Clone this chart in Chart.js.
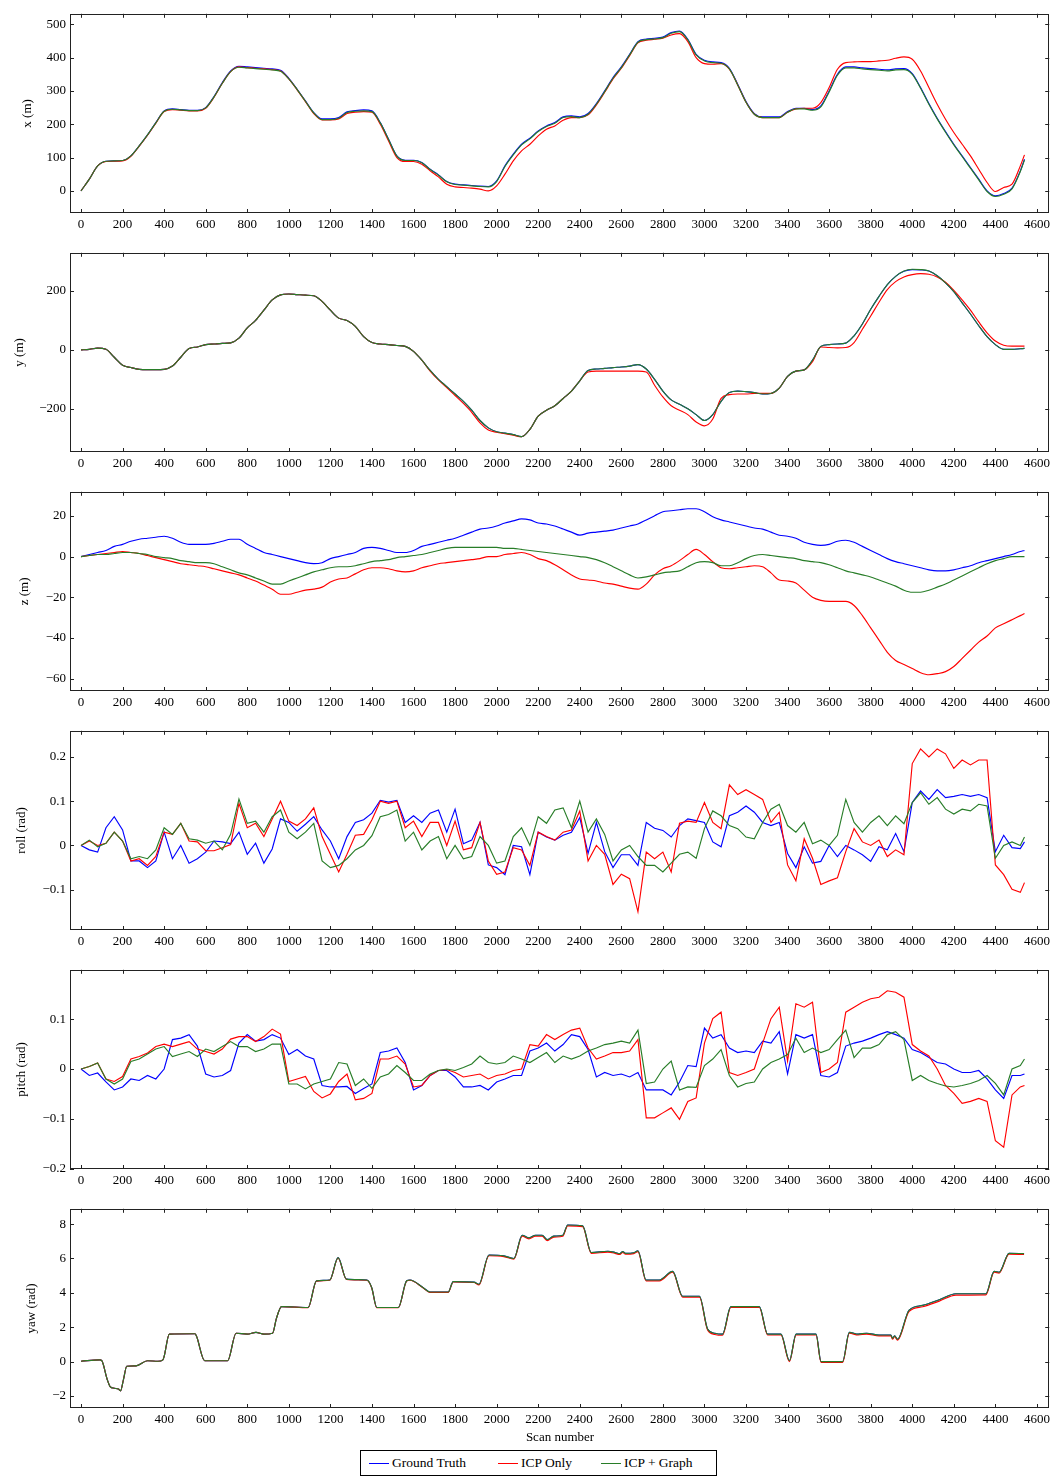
<!DOCTYPE html>
<html><head><meta charset="utf-8">
<script src="https://cdn.jsdelivr.net/npm/chart.js@4.4.1/dist/chart.umd.min.js"></script>
<style>
html,body{margin:0;padding:0;background:#fff;}
body{width:1054px;height:1477px;position:relative;overflow:hidden;font-family:"Liberation Serif",serif;color:#000;}
canvas{position:absolute;left:0;}
#xlabel{position:absolute;top:1429px;left:70px;width:980px;text-align:center;font-size:13px;line-height:15px;}
#legend{position:absolute;left:360px;top:1450px;width:357px;height:26px;border:1px solid #000;box-sizing:border-box;font-size:13.5px;}
#legend i{position:absolute;top:12px;width:20px;height:0;border-top:1.3px solid;}
#legend span{position:absolute;top:4px;line-height:16px;white-space:nowrap;}
</style></head>
<body>
<canvas id="c0" width="1054" height="239" style="top:2px"></canvas>
<canvas id="c1" width="1054" height="239" style="top:241px"></canvas>
<canvas id="c2" width="1054" height="239" style="top:480px"></canvas>
<canvas id="c3" width="1054" height="239" style="top:719px"></canvas>
<canvas id="c4" width="1054" height="239" style="top:958px"></canvas>
<canvas id="c5" width="1054" height="239" style="top:1197px"></canvas>
<div id="xlabel">Scan number</div>
<div id="legend">
<i style="left:8px;border-color:#0000ff"></i><span style="left:31px">Ground Truth</span>
<i style="left:137px;border-color:#ff0000"></i><span style="left:160px">ICP Only</span>
<i style="left:240px;border-color:rgb(40,125,40)"></i><span style="left:263px">ICP + Graph</span>
</div>
<script>
// ---------- DATA ----------
const seriesNames = ["Ground Truth", "ICP Only", "ICP + Graph"];
const scanTicks = [0,200,400,600,800,1000,1200,1400,1600,1800,2000,2200,2400,2600,2800,3000,3200,3400,3600,3800,4000,4200,4400,4600];

const scans = [0,40,80,120,160,200,240,280,320,360,
400,440,480,520,560,600,640,680,720,760,
800,840,880,920,960,1000,1040,1080,1120,1160,
1200,1240,1280,1320,1360,1400,1440,1480,1520,1560,
1600,1640,1680,1720,1760,1800,1840,1880,1920,1960,
2000,2040,2080,2120,2160,2200,2240,2280,2320,2360,
2400,2440,2480,2520,2560,2600,2640,2680,2720,2760,
2800,2840,2880,2920,2960,3000,3040,3080,3120,3160,
3200,3240,3280,3320,3360,3400,3440,3480,3520,3560,
3600,3640,3680,3720,3760,3800,3840,3880,3920,3960,
4000,4040,4080,4120,4160,4200,4240,4280,4320,4360,
4400,4440,4480,4520,4540];

// x (m)
const xTicks = [0,100,200,300,400,500];
const xGt = [0,35,75,89,90,91,105,135,168,205,
240,246,244,242,242,250,283,325,360,374,
372,370,368,366,362,338,305,270,235,216,
216,220,237,241,243,240,205,155,105,92,
92,85,65,48,28,20,18,16,14,13,
30,75,110,140,158,180,195,205,222,225,
222,232,262,300,340,372,410,448,456,458,
462,475,480,455,410,392,387,385,368,320,
268,232,222,222,222,238,248,248,244,255,
300,350,372,372,369,367,365,363,366,367,
352,310,262,218,178,140,105,70,35,0,
-15,-8,8,60,95];
const xIcp = [0,35,75,88,89,90,104,134,167,203,
238,244,242,240,240,248,281,323,358,372,
370,368,366,364,360,336,303,268,232,213,
213,216,232,236,238,236,200,150,100,88,
88,80,60,42,20,12,10,8,5,0,
15,50,90,120,140,165,185,195,212,220,
220,228,258,296,336,368,406,444,452,455,
458,468,472,448,400,382,380,382,365,318,
266,230,220,220,220,236,246,248,248,265,
310,365,385,387,388,388,390,392,398,402,
395,360,310,260,215,175,140,105,65,25,
-2,10,20,75,108];
const xGraph = [0,35,75,89,90,91,105,135,168,204,
239,245,243,241,241,249,282,323,358,371,
369,367,365,363,359,336,304,269,234,214,
214,218,235,239,240,238,204,154,104,91,
91,84,64,47,27,19,17,15,13,12,
28,73,108,138,156,178,193,203,220,223,
220,230,260,298,338,370,408,446,454,456,
460,473,478,453,408,390,385,383,366,318,
266,230,220,220,220,236,246,246,242,252,
297,347,369,369,366,364,362,360,363,364,
350,308,260,216,176,138,103,68,33,-2,
-17,-10,6,58,93];

// y (m)
const yTicks = [-200,0,200];
const yGt = [0,2,6,2,-25,-52,-60,-66,-67,-67,
-66,-55,-25,5,10,18,20,22,24,40,
75,100,135,170,187,190,188,186,184,165,
135,108,100,80,45,25,20,18,15,12,
-5,-35,-70,-100,-125,-150,-175,-205,-240,-265,
-278,-283,-288,-295,-270,-225,-205,-190,-165,-140,
-105,-70,-65,-63,-60,-58,-55,-50,-65,-100,
-140,-170,-185,-200,-220,-240,-220,-175,-145,-140,
-142,-145,-150,-148,-130,-90,-72,-68,-35,12,
18,20,23,48,88,138,182,222,250,267,
273,272,268,252,228,198,160,122,82,45,
18,2,2,4,5];
const yIcp = [0,2,6,2,-25,-52,-60,-66,-67,-67,
-66,-55,-25,5,10,18,20,22,24,40,
75,100,135,170,187,190,188,186,184,165,
135,108,100,80,45,25,20,18,15,12,
-5,-35,-72,-102,-128,-155,-182,-212,-248,-272,
-280,-285,-290,-295,-270,-225,-205,-190,-165,-140,
-105,-75,-72,-72,-72,-72,-72,-72,-75,-120,
-160,-190,-205,-220,-245,-258,-235,-165,-152,-150,
-150,-148,-148,-148,-130,-90,-72,-68,-40,10,
8,7,8,25,70,115,162,205,232,248,
256,259,257,248,230,202,170,135,95,58,
30,16,13,13,13];
const yGraph = [0,2,6,2,-25,-52,-60,-66,-67,-67,
-66,-55,-25,5,10,18,20,22,24,40,
75,100,135,170,187,190,188,186,184,165,
135,108,100,80,45,25,20,18,15,12,
-5,-35,-70,-100,-125,-150,-175,-205,-240,-265,
-278,-283,-288,-295,-270,-225,-205,-190,-165,-140,
-105,-70,-65,-63,-60,-58,-55,-50,-65,-100,
-140,-170,-185,-200,-220,-240,-220,-175,-145,-140,
-142,-145,-150,-148,-130,-90,-72,-68,-35,12,
18,20,23,48,88,138,182,222,250,268,
274,273,268,252,228,198,160,122,82,45,
18,2,2,4,5];

// z (m)
const zTicks = [-60,-40,-20,0,20];
const zGt = [0,1,2,3,5,6,7.5,8.5,9,9.5,
10,9,7,6,6,6,6.5,7.5,8.5,8.5,
6,4,2,1,0,-1,-2,-3,-3.5,-3,
-1,0,1,2,4,4.5,4,3,2,2,
3,5,6,7,8,9,10.5,12,13.5,14,
15,16.5,17.5,18.5,18,16.5,16,15,13.5,12,
10.5,11.5,12,12.5,13,14,15,16,18,20,
22,22.5,23,23.5,23.5,22,19.5,18,17,16,
15,14,13.5,12,10.5,10,9,7,6,5.5,
6,7.5,8,7,5,3,1,-1,-2.5,-3.5,
-4.5,-5.5,-6.5,-7,-7,-6.5,-5.5,-4.5,-3,-2,
-1,0,1,2.5,3];
const zIcp = [0,0.5,1,1.5,2,2.5,2,1.5,0.5,-0.5,
-1.5,-2.5,-3.5,-4,-4.5,-5,-6,-7,-8,-9,
-10.5,-12,-14,-16,-18.5,-18.5,-17.5,-16.5,-16,-15,
-12.5,-11,-10.5,-8.5,-6.5,-5.5,-5.5,-6,-7,-7.5,
-7,-5.5,-4.5,-3.5,-3,-2.5,-2,-1.5,-1,0,
0,1,1.5,2,1,-1,-2,-4,-6.5,-9,
-11,-11.5,-12,-13,-13.5,-14.5,-15.5,-16,-13.5,-9,
-6,-4.5,-2,1,3.5,1,-2.5,-5.5,-6,-5.5,
-5,-4.5,-5,-8,-11.5,-12,-13,-16.5,-20,-21.5,
-22,-22,-22,-24,-29,-35,-41,-47,-51,-53,
-55,-57,-58,-57.5,-56.5,-54,-50,-46,-42,-39,
-35,-33,-31,-29,-28];
const zGraph = [0,0.5,1,1,1.5,2,2,1.5,1,0,
-0.5,-1,-2,-2.5,-3,-3,-3.5,-5,-6.5,-8,
-9,-10.5,-12,-13.5,-13.5,-12,-10.5,-9,-7.5,-6.5,
-5.5,-5,-5,-4.5,-3.5,-2.5,-2,-1.5,-0.5,0,
0.5,1,2,3,4,4.5,4.5,4.5,4.5,4.5,
4.5,4,4,3.5,3,2.5,2,1.5,1,0.5,
0,-0.5,-1.5,-3,-5,-7,-9,-10.5,-10,-9,
-8,-7.5,-7,-5,-3,-2.5,-3,-4.5,-4.5,-3,
-1,0.5,1,0.5,0,-0.5,-1,-2,-2.5,-3,
-4,-5.5,-7,-8,-9,-10,-11.5,-13,-14.5,-16.5,
-17.5,-17.5,-16.5,-15,-13.5,-11.5,-9.5,-7.5,-5.5,-3.5,
-2,-1,0,0,0];

// roll (rad)
const rollTicks = [-0.1,0,0.1,0.2];
const rollGt = [0,-0.01,-0.015,0.04,0.065,0.035,-0.035,-0.035,-0.05,-0.035,
0.03,-0.03,0.0,-0.04,-0.03,-0.015,0.01,0.008,0.004,0.03,
-0.02,0.005,-0.04,-0.008,0.06,0.052,0.032,0.048,0.065,0.035,
0.01,-0.03,0.02,0.052,0.058,0.073,0.102,0.098,0.102,0.052,
0.067,0.052,0.073,0.08,0.03,0.082,0.004,0.012,0.052,-0.044,
-0.05,-0.066,0.0,-0.003,-0.066,0.03,0.019,0.012,0.023,0.03,
0.063,-0.018,0.052,-0.014,-0.05,-0.021,-0.021,-0.045,0.052,0.039,
0.034,0.019,0.045,0.06,0.056,0.052,0.008,-0.003,0.067,0.075,
0.089,0.075,0.052,0.045,0.052,-0.018,-0.05,-0.003,-0.04,-0.036,
0.0,-0.025,0.0,-0.01,-0.021,-0.036,-0.003,-0.01,0.027,-0.014,
0.097,0.123,0.104,0.126,0.108,0.111,0.115,0.111,0.115,0.108,
-0.014,0.023,-0.005,-0.007,0.008];
const rollIcp = [0,0.01,0.0,0.005,0.03,0.01,-0.035,-0.03,-0.045,-0.025,
0.03,0.025,0.05,0.01,0.008,-0.012,-0.012,-0.005,0.002,0.095,
0.04,0.05,0.02,0.06,0.1,0.055,0.045,0.06,0.085,0.02,
-0.02,-0.06,-0.02,0.023,0.025,0.058,0.1,0.095,0.1,0.04,
0.055,0.02,0.052,0.052,0.0,0.055,-0.01,-0.005,0.052,-0.035,
-0.065,-0.06,-0.005,-0.01,-0.045,0.03,0.02,0.012,0.03,0.035,
0.078,-0.035,0.0,-0.02,-0.088,-0.065,-0.075,-0.15,-0.015,-0.03,
-0.015,-0.06,0.05,0.055,0.052,0.097,0.052,0.038,0.137,0.115,
0.126,0.115,0.104,0.052,0.075,-0.044,-0.08,0.015,-0.029,-0.088,
-0.08,-0.073,-0.014,0.038,0.008,0.0,0.012,-0.025,-0.01,-0.021,
0.185,0.218,0.2,0.218,0.207,0.174,0.193,0.182,0.193,0.193,
-0.044,-0.066,-0.099,-0.106,-0.084];
const rollGraph = [0,0.012,-0.003,0.005,0.03,0.01,-0.03,-0.025,-0.03,-0.01,
0.04,0.025,0.05,0.015,0.012,0.005,0.01,-0.01,0.025,0.105,
0.05,0.055,0.03,0.065,0.08,0.03,0.015,0.03,0.05,-0.035,
-0.05,-0.045,-0.03,-0.01,0.0,0.022,0.065,0.07,0.08,0.01,
0.03,-0.01,0.01,0.02,-0.03,0.0,-0.03,-0.025,0.02,0.0,
-0.04,-0.035,0.02,0.04,0.0,0.065,0.05,0.08,0.085,0.04,
0.1,0.03,0.06,0.025,-0.035,-0.01,0.0,-0.025,-0.045,-0.045,
-0.06,-0.04,-0.02,-0.015,-0.029,0.038,0.078,0.067,0.045,0.038,
0.019,0.015,0.052,0.082,0.093,0.045,0.03,0.052,0.004,0.012,
0.0,0.023,0.104,0.052,0.03,0.052,0.067,0.045,0.067,0.049,
0.097,0.119,0.093,0.108,0.082,0.071,0.082,0.078,0.093,0.089,
-0.029,0.0,0.008,0.0,0.019];

// pitch (rad)
const pitchTicks = [-0.2,-0.1,0,0.1];
const pitchGt = [0,-0.013,-0.008,-0.026,-0.042,-0.036,-0.02,-0.023,-0.013,-0.02,
0.0,0.059,0.062,0.069,0.046,-0.01,-0.016,-0.013,-0.003,0.052,
0.069,0.056,0.059,0.069,0.062,0.029,0.039,0.026,0.02,-0.033,
-0.036,-0.036,-0.035,-0.049,-0.039,-0.03,0.033,0.036,0.042,0.013,
-0.042,-0.033,-0.013,-0.003,-0.003,-0.016,-0.036,-0.036,-0.033,-0.042,
-0.026,-0.02,-0.013,-0.013,0.036,0.042,0.052,0.036,0.049,0.069,
0.065,0.039,-0.016,-0.007,-0.013,-0.01,-0.016,-0.007,-0.042,-0.042,
-0.042,-0.052,-0.026,0.007,0.005,0.082,0.062,0.069,0.042,0.033,
0.036,0.033,0.056,0.052,0.075,-0.01,0.069,0.062,0.069,-0.013,
-0.016,-0.007,0.046,0.052,0.056,0.062,0.069,0.075,0.069,0.062,
0.039,0.033,0.023,0.013,0.01,0.0,-0.007,-0.007,-0.003,-0.02,
-0.042,-0.059,-0.013,-0.013,-0.01];
const pitchIcp = [0,0.005,0.012,-0.02,-0.025,-0.015,0.02,0.025,0.032,0.045,
0.05,0.045,0.05,0.055,0.04,0.035,0.03,0.04,0.06,0.065,
0.065,0.055,0.065,0.08,0.07,-0.025,-0.02,-0.015,-0.045,-0.058,
-0.05,-0.025,-0.01,-0.062,-0.059,-0.049,0.02,0.02,0.026,0.01,
-0.036,-0.033,-0.013,-0.003,-0.001,-0.007,-0.016,-0.013,-0.01,-0.02,
-0.013,-0.01,-0.003,0.0,0.049,0.046,0.069,0.059,0.069,0.078,
0.082,0.042,0.02,0.026,0.033,0.033,0.036,0.059,-0.098,-0.098,
-0.088,-0.078,-0.101,-0.065,-0.058,0.052,0.101,0.114,-0.007,-0.013,
-0.007,0.0,0.052,0.101,0.124,0.016,0.131,0.124,0.134,-0.007,
0.0,0.013,0.114,0.124,0.134,0.141,0.144,0.157,0.154,0.144,
0.049,0.036,0.026,0.0,-0.033,-0.049,-0.069,-0.065,-0.059,-0.065,
-0.144,-0.157,-0.052,-0.036,-0.033];
const pitchGraph = [0,0.005,0.012,-0.02,-0.03,-0.02,0.015,0.02,0.03,0.04,
0.045,0.025,0.03,0.035,0.025,0.04,0.035,0.045,0.055,0.045,
0.045,0.035,0.04,0.05,0.05,-0.03,-0.03,-0.04,-0.03,-0.025,
-0.02,0.013,0.01,-0.033,-0.02,-0.039,-0.016,-0.01,0.007,-0.007,
-0.023,-0.023,-0.01,-0.003,0.0,-0.003,0.003,0.01,0.026,0.013,
0.01,0.013,0.026,0.02,0.013,0.023,0.033,0.013,0.026,0.02,
0.026,0.036,0.042,0.049,0.052,0.056,0.052,0.078,-0.029,-0.026,
0.0,0.016,-0.042,-0.036,-0.037,0.007,0.02,0.039,-0.013,-0.036,
-0.029,-0.026,0.0,0.013,0.02,0.029,0.062,0.033,0.042,0.033,
0.039,0.059,0.078,0.023,0.042,0.042,0.049,0.069,0.075,0.059,
-0.023,-0.013,-0.023,-0.029,-0.034,-0.036,-0.033,-0.029,-0.023,-0.013,
-0.029,-0.052,0.0,0.007,0.02];

// yaw (rad)
const yawTicks = [-2,0,2,4,6,8];
const yawScans = [0,90,100,125,140,160,180,190,205,220,
265,320,370,394,400,425,548,555,595,706,
746,800,842,880,922,940,965,1093,1133,1197,
1237,1277,1375,1399,1423,1527,1567,1583,1647,1679,
1767,1791,1891,1915,1963,2035,2083,2123,2155,2187,
2219,2243,2275,2318,2342,2414,2455,2535,2570,2591,
2607,2620,2660,2680,2719,2783,2847,2895,2976,3015,
3050,3087,3127,3264,3304,3368,3409,3441,3537,3561,
3665,3697,3740,3780,3840,3897,3905,3915,3929,3985,
4050,4130,4210,4354,4394,4418,4466,4538];
const yawGt = [0.02,0.1,0.05,-1.0,-1.45,-1.55,-1.6,-1.7,-1.0,-0.27,
-0.25,0.05,0.02,0.1,0.3,1.6,1.62,1.5,0.05,0.05,
1.65,1.6,1.7,1.6,1.65,2.5,3.2,3.15,4.7,4.75,
6.05,4.8,4.75,4.3,3.15,3.15,4.7,4.75,4.3,4.05,
4.05,4.65,4.62,4.5,6.2,6.15,6.0,7.35,7.2,7.35,
7.35,7.1,7.3,7.35,7.95,7.9,6.35,6.42,6.35,6.28,
6.4,6.3,6.33,6.45,4.75,4.75,5.25,3.8,3.8,1.9,
1.65,1.6,3.2,3.2,1.6,1.6,0.05,1.6,1.6,0.0,
0.0,1.7,1.6,1.65,1.55,1.55,1.35,1.5,1.3,3.0,
3.27,3.6,3.95,3.95,5.25,5.2,6.3,6.28];
const yawIcp = [0.02,0.1,0.05,-1.0,-1.45,-1.55,-1.6,-1.7,-1.0,-0.27,
-0.25,0.05,0.02,0.1,0.3,1.6,1.62,1.5,0.05,0.05,
1.65,1.6,1.7,1.6,1.65,2.5,3.2,3.13,4.68,4.73,
6.03,4.78,4.73,4.28,3.13,3.13,4.68,4.73,4.28,4.03,
4.03,4.63,4.6,4.46,6.16,6.11,5.96,7.29,7.14,7.29,
7.29,7.04,7.24,7.29,7.9,7.85,6.3,6.37,6.3,6.23,
6.35,6.25,6.28,6.4,4.7,4.7,5.2,3.75,3.75,1.84,
1.58,1.53,3.15,3.15,1.55,1.55,0.0,1.55,1.55,-0.05,
-0.05,1.65,1.55,1.6,1.5,1.5,1.3,1.45,1.25,2.92,
3.19,3.52,3.87,3.88,5.2,5.15,6.25,6.23];
const yawGraph = [0.02,0.1,0.05,-1.0,-1.45,-1.55,-1.6,-1.7,-1.0,-0.27,
-0.25,0.05,0.02,0.1,0.3,1.6,1.62,1.5,0.05,0.05,
1.65,1.6,1.7,1.6,1.65,2.5,3.2,3.15,4.7,4.75,
6.05,4.8,4.75,4.3,3.15,3.15,4.7,4.75,4.3,4.05,
4.05,4.65,4.62,4.5,6.2,6.15,6.0,7.35,7.2,7.35,
7.35,7.1,7.3,7.35,7.95,7.9,6.35,6.42,6.35,6.28,
6.4,6.3,6.33,6.45,4.75,4.75,5.25,3.8,3.8,1.9,
1.65,1.6,3.2,3.2,1.6,1.6,0.05,1.6,1.6,0.0,
0.0,1.7,1.6,1.65,1.55,1.55,1.35,1.5,1.3,3.0,
3.27,3.6,3.95,3.95,5.25,5.2,6.3,6.28];

// ---------- CHART ----------
const COLORS = ['#0000ff', '#ff0000', 'rgb(40,125,40)'];
const FONT = {family: "'Liberation Serif', serif", size: 13};
Chart.defaults.color = '#000';
Chart.defaults.font.family = FONT.family;
Chart.defaults.font.size = 13;

const framePlugin = {
  id: 'frame',
  afterDraw(chart) {
    const {ctx, chartArea: a, scales} = chart;
    ctx.save();
    ctx.strokeStyle = '#222';
    ctx.lineWidth = 1;
    ctx.beginPath();
    scales.x.ticks.forEach(t => {
      const px = Math.round(scales.x.getPixelForValue(t.value)) + 0.5;
      ctx.moveTo(px, a.bottom); ctx.lineTo(px, a.bottom - 4);
      ctx.moveTo(px, a.top); ctx.lineTo(px, a.top + 4);
    });
    scales.y.ticks.forEach(t => {
      const py = Math.round(scales.y.getPixelForValue(t.value)) + 0.5;
      ctx.moveTo(a.left, py); ctx.lineTo(a.left + 4, py);
      ctx.moveTo(a.right, py); ctx.lineTo(a.right - 4, py);
    });
    ctx.stroke();
    ctx.strokeRect(Math.round(a.left) + 0.5, Math.round(a.top) + 0.5, Math.round(a.width) - 1, Math.round(a.height) - 1);
    ctx.restore();
  }
};

const fmt = v => String(v).replace('-', '\u2212');

function makePanel(id, label, xs, series, ticks, min, max, titleX, smooth) {
  const datasets = series.map((arr, i) => ({
    label: seriesNames[i],
    data: xs.map((s, k) => ({x: s, y: arr[k]})),
    borderColor: COLORS[i],
    backgroundColor: COLORS[i],
    borderWidth: 1.15,
    pointRadius: 0,
    fill: false,
    tension: 0,
    cubicInterpolationMode: smooth ? 'monotone' : 'default',
    order: 3 - i
  }));
  new Chart(document.getElementById(id), {
    type: 'line',
    data: {datasets},
    options: {
      responsive: false, animation: false, devicePixelRatio: 1,
      layout: {padding: {top: 8, right: 4, bottom: 0, left: 0}},
      plugins: {legend: {display: false}, tooltip: {enabled: false}},
      scales: {
        x: {
          type: 'linear', min: -53, max: 4659,
          grid: {display: false, drawTicks: false}, border: {display: false},
          afterBuildTicks: s => { s.ticks = scanTicks.map(v => ({value: v})); },
          afterFit: s => { s.height = 28; },
          ticks: {autoSkip: false, maxRotation: 0, minRotation: 0, padding: 4, font: FONT, callback: v => String(v)}
        },
        y: {
          type: 'linear', min, max,
          grid: {display: false, drawTicks: false}, border: {display: false},
          afterBuildTicks: s => { s.ticks = ticks.map(v => ({value: v})); },
          afterFit: s => { s.width = 70; },
          ticks: {autoSkip: false, padding: 4, font: FONT, callback: v => fmt(v)},
          title: {display: true, text: label, font: FONT, padding: {top: titleX - 7.8, bottom: 0}}
        }
      }
    },
    plugins: [framePlugin]
  });
}

makePanel('c0', 'x (m)', scans, [xGt, xIcp, xGraph], xTicks, -66.5, 531.5, 28, true);
makePanel('c1', 'y (m)', scans, [yGt, yIcp, yGraph], yTicks, -347, 330, 20, true);
makePanel('c2', 'z (m)', scans, [zGt, zIcp, zGraph], zTicks, -66, 31.8, 25, true);
makePanel('c3', 'roll (rad)', scans, [rollGt, rollIcp, rollGraph], rollTicks, -0.191, 0.259, 22, false);
makePanel('c4', 'pitch (rad)', scans, [pitchGt, pitchIcp, pitchGraph], pitchTicks, -0.2006, 0.199, 22, false);
makePanel('c5', 'yaw (rad)', yawScans, [yawGt, yawIcp, yawGraph], yawTicks, -2.7, 8.89, 32, true);
</script>
</body></html>
